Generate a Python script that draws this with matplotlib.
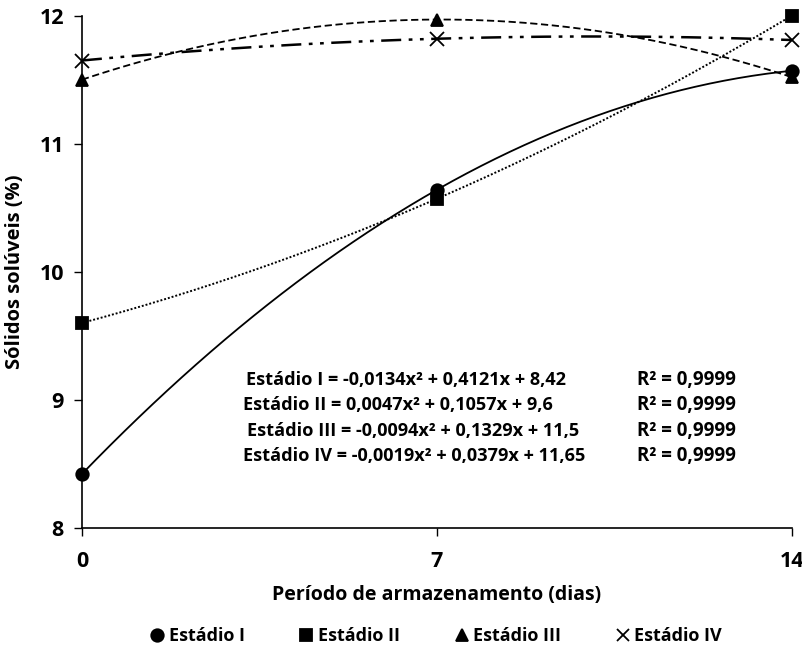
import numpy as np
import matplotlib
matplotlib.use("Agg")
import matplotlib.pyplot as plt
from matplotlib.lines import Line2D

# =========================
# DATA
# =========================
dias = [0, 7, 14]
estadio_1 = [8.42, 10.64, 11.57]
estadio_2 = [9.60, 10.57, 12.00]
estadio_3 = [11.50, 11.97, 11.52]
estadio_4 = [11.65, 11.82, 11.81]

nomes = ["Estádio I", "Estádio II", "Estádio III", "Estádio IV"]
equacoes = [
    "Estádio I = -0,0134x² + 0,4121x + 8,42",
    "Estádio II = 0,0047x² + 0,1057x + 9,6",
    "Estádio III = -0,0094x² + 0,1329x + 11,5",
    "Estádio IV = -0,0019x² + 0,0379x + 11,65",
]
r2 = ["R² = 0,9999"] * 4

# =========================
# STYLE
# =========================
plt.rcParams["font.family"] = ["Open Sans", "DejaVu Sans"]
plt.rcParams["font.weight"] = "bold"

series = [estadio_1, estadio_2, estadio_3, estadio_4]
marcadores = ["o", "s", "^", "x"]
estilos = ["-", (0, (1, 1)), (0, (4, 2)), (0, (8, 3, 1.5, 3, 1.5, 3))]
larguras = [1.3, 1.4, 1.3, 1.8]

fig = plt.figure(figsize=(8.03, 6.54), dpi=100)
ax = fig.add_axes([0.102, 0.193, 0.884, 0.783])

xs = np.linspace(0, 14, 200)
for y, m, ls, lw in zip(series, marcadores, estilos, larguras):
    coef = np.polyfit(dias, y, 2)
    ax.plot(xs, np.polyval(coef, xs), color="black", linestyle=ls, linewidth=lw)
    ax.plot(dias, y, linestyle="none", marker=m, color="black",
            markersize=9 if m != "x" else 10, markeredgewidth=1.3,
            clip_on=False, zorder=5)

ax.set_xlim(0, 14)
ax.set_ylim(8, 12)
ax.set_xticks(dias)
ax.set_yticks([8, 9, 10, 11, 12])
ax.tick_params(direction="out", length=6, width=1, labelsize=15.5, pad=11)
ax.tick_params(axis="y", pad=7)
for lab in ax.get_xticklabels() + ax.get_yticklabels():
    lab.set_fontweight("bold")
ax.spines["top"].set_visible(False)
ax.spines["right"].set_visible(False)
ax.spines["left"].set_linewidth(1.2)
ax.spines["bottom"].set_linewidth(1.2)

ax.set_xlabel("Período de armazenamento (dias)", fontsize=14, fontweight="bold", labelpad=9)
ax.set_ylabel("Sólidos solúveis (%)", fontsize=14.5, fontweight="bold", labelpad=10)

# equations
ys_eq = [380, 405, 431, 456]
xs_eq = [246, 243, 247, 243]
for eq, r, yp, xp in zip(equacoes, r2, ys_eq, xs_eq):
    fig.text(xp / 803, 1 - yp / 654, eq, fontsize=13.1, fontweight="bold", va="center", ha="left")
    fig.text(637 / 803, 1 - yp / 654, r, fontsize=13.5, fontweight="bold", va="center", ha="left")

# legend
handles = [Line2D([], [], linestyle="none", marker=m, color="black", markersize=9,
                  markeredgewidth=1.3) for m in marcadores]
fig.legend(handles, nomes, loc="center", bbox_to_anchor=(0.542, 1 - 636 / 654),
           ncol=4, frameon=False, fontsize=13, handletextpad=0.15,
           columnspacing=2.9, handlelength=1.0)

fig.savefig("out.png", dpi=100)
